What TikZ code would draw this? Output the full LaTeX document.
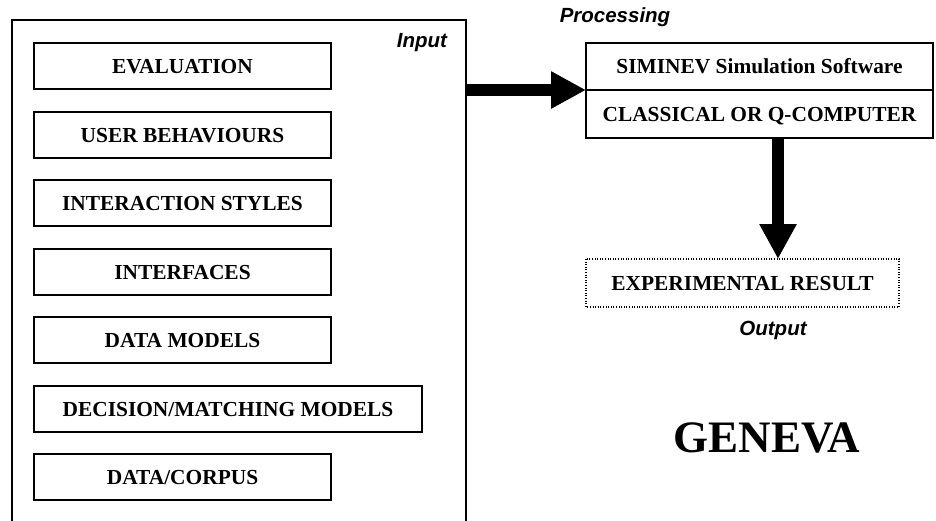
\documentclass[tikz,border=0pt]{standalone}
\usepackage{fontspec}
\setmainfont{Liberation Serif}
\newfontfamily\arialf{Liberation Sans}
\usetikzlibrary{arrows.meta}
\begin{document}
\begin{tikzpicture}[x=1pt,y=-1pt,
  every node/.style={outer sep=0pt, inner sep=0pt},
  item/.style={draw, line width=1.3pt, anchor=north west, minimum height=46pt,
    font=\fontsize{21.4}{24}\selectfont\bfseries, text height=14pt, text depth=0pt},
  lbl/.style={font=\arialf\fontsize{20.5}{24}\selectfont\bfseries\itshape},
  bigarrow/.style={line width=12.5pt, -{Triangle[length=35pt,width=35pt]}}
]
\useasboundingbox (0,0) rectangle (936,520);
\begin{scope}
\clip (0,0) rectangle (936,520);
\node[draw, line width=1.3pt, anchor=north west, minimum width=454pt, minimum height=520pt] (input) at (12,20) {};
\end{scope}
\node[lbl] (inlbl) at (422,43) {Input};
\node[item, minimum width=297pt] (eval) at (34,43) {EVALUATION};
\node[item, minimum width=297pt] (user) at (34,112) {USER BEHAVIOURS};
\node[item, minimum width=297pt] (inter) at (34,180) {INTERACTION STYLES};
\node[item, minimum width=297pt] (iface) at (34,249) {INTERFACES};
\node[item, minimum width=297pt] (dm) at (34,317) {DATA MODELS};
\node[item, minimum width=388pt] (dec) at (34,386) {DECISION/MATCHING MODELS};
\node[item, minimum width=297pt] (corp) at (34,454) {DATA/CORPUS};

\node[lbl] (proclbl) at (615,17) {Processing};
\node[item, minimum width=347pt, minimum height=47pt] (sim) at (586,43) {SIMINEV Simulation Software};
\node[item, minimum width=347pt, minimum height=48pt] (comp) at (586,90) {CLASSICAL OR Q-COMPUTER};

\node[item, draw=none, minimum width=313pt, minimum height=48pt] (exp) at (586,259) {EXPERIMENTAL RESULT};
\draw[line width=1.1pt, dash pattern=on 1pt off 1.6pt] (exp.north west) rectangle (exp.south east);
\node[lbl] (outlbl) at (773,330) {Output};
\node[font=\fontsize{45}{50}\selectfont\bfseries] (geneva) at (767,438) {GENEVA};

\coordinate (vx) at (778,0);
\draw[bigarrow] (input.east |- comp.north west) -- (comp.north west);
\draw[bigarrow] (comp.south -| vx) -- (exp.north -| vx);
\end{tikzpicture}
\end{document}
